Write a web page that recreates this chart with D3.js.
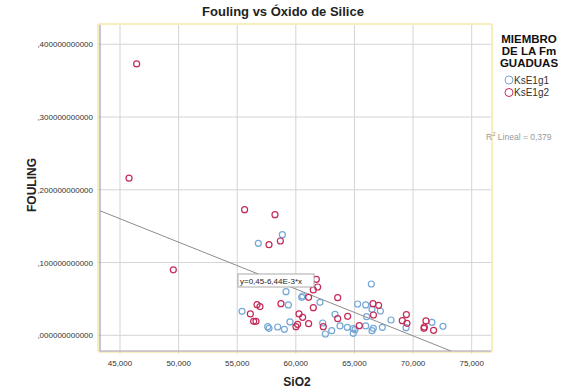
<!DOCTYPE html>
<html>
<head>
<meta charset="utf-8">
<script src="https://cdn.jsdelivr.net/npm/d3@7"></script>
<style>
  body { margin: 0; background: #fff; }
  svg { font-family: Arial, "Liberation Sans", sans-serif; }
</style>
</head>
<body>
<svg id="chart"></svg>
<script>
// SiO2 (x) and FOULING (y) per group
const g1SiO2 = [58.85, 56.80, 59.16, 60.50, 60.58, 66.44, 62.06, 59.36, 55.41, 59.50, 57.60, 57.71,
  58.45, 59.02, 62.29, 62.52, 63.06, 63.34, 63.77, 64.39, 64.90, 65.05, 64.90, 65.27, 65.96,
  66.50, 67.21, 66.04, 65.96, 66.50, 66.61, 67.38, 68.12, 69.40, 71.61, 72.55];
const g1Fouling = [0.1383, 0.1264, 0.0600, 0.0522, 0.0540, 0.0705, 0.0453, 0.0417, 0.0330, 0.0183, 0.0119, 0.0096,
  0.0114, 0.0082, 0.0169, 0.0018, 0.0064, 0.0288, 0.0128, 0.0110, 0.0091, 0.0077, 0.0027, 0.0430, 0.0417,
  0.0357, 0.0334, 0.0256, 0.0128, 0.0064, 0.0096, 0.0110, 0.0210, 0.0105, 0.0178, 0.0123];

const g2SiO2 = [46.42, 45.77, 49.55, 55.63, 58.22, 57.71, 58.68, 61.75, 61.86, 61.49, 61.09, 63.57,
  56.69, 56.94, 58.73, 61.49, 56.12, 56.40, 56.60, 60.27, 60.58, 60.15, 60.01, 61.09, 62.34,
  63.57, 64.42, 65.41, 66.58, 67.06, 66.62, 69.08, 69.43, 69.48, 70.93, 70.96, 71.10, 71.75];
const g2Fouling = [0.373, 0.216, 0.090, 0.1727, 0.1658, 0.1246, 0.1296, 0.0769, 0.0664, 0.0623, 0.0522, 0.0517,
  0.0421, 0.0394, 0.0435, 0.0380, 0.0293, 0.0192, 0.0192, 0.0293, 0.0247, 0.0151, 0.0119, 0.0160, 0.0119,
  0.0229, 0.0261, 0.0132, 0.0435, 0.0412, 0.0279, 0.0201, 0.0284, 0.0165, 0.0096, 0.0114, 0.0197, 0.0068];

const groups = ["KsE1g1", "KsE1g2"];
const legendTitle = ["MIEMBRO", "DE LA Fm", "GUADUAS"];
const xTicks = [45, 50, 55, 60, 65, 70, 75];
const yTicks = [0, 0.1, 0.2, 0.3, 0.4];
const fitIntercept = 0.45;
const fitSlope = -6.44e-3;
const fitLabel = "y=0,45-6,44E-3*x";
const r2Label = "Lineal = 0,379";

const width = 565, height = 392;
const margin = { top: 25, right: 74, bottom: 41, left: 100 };
const pw = width - margin.left - margin.right;
const ph = height - margin.top - margin.bottom;
const colors = { KsE1g1: "#74a7d6", KsE1g2: "#c42a58" };

const svg = d3.select("#chart").attr("width", width).attr("height", height);

const x = d3.scaleLinear().domain([43.294, 76.648]).range([0, pw]);
const y = d3.scaleLinear().domain([-0.0216, 0.4265]).range([ph, 0]);

const comma = v => d3.format(".3f")(v).replace(".", ",");
const commaY = v => d3.format(".12f")(v).replace("0.", ",");

const g = svg.append("g").attr("transform", "translate(" + margin.left + "," + margin.top + ")");

svg.append("defs").append("clipPath").attr("id", "clip")
  .append("rect").attr("width", pw).attr("height", ph);

// gridlines
g.append("g").selectAll("line").data(xTicks).enter().append("line")
  .attr("x1", d => x(d)).attr("x2", d => x(d))
  .attr("y1", 0).attr("y2", ph + 3)
  .attr("stroke", "#d4d4d4");
g.append("g").selectAll("line").data(yTicks).enter().append("line")
  .attr("x1", -3).attr("x2", pw)
  .attr("y1", d => y(d)).attr("y2", d => y(d))
  .attr("stroke", "#d4d4d4");

// frame
g.append("rect").attr("x", -2).attr("y", -1).attr("width", pw + 3).attr("height", ph + 2)
  .attr("rx", 2).attr("fill", "none").attr("stroke", "#f2eaa6").attr("stroke-width", 1.5);

// axes lines
g.append("line").attr("x1", 0).attr("x2", 0).attr("y1", 0).attr("y2", ph)
  .attr("stroke", "#a59cbf").attr("stroke-width", 1.2);
g.append("line").attr("x1", 0).attr("x2", pw).attr("y1", ph).attr("y2", ph)
  .attr("stroke", "#a59cbf").attr("stroke-width", 1.2);

// tick labels
g.append("g").selectAll("text").data(xTicks).enter().append("text")
  .attr("x", d => x(d)).attr("y", ph + 15)
  .attr("text-anchor", "middle").attr("font-size", "8px").attr("fill", "#333")
  .text(comma);
g.append("g").selectAll("text").data(yTicks).enter().append("text")
  .attr("x", -7).attr("y", d => y(d) + 3)
  .attr("text-anchor", "end").attr("font-size", "8px").attr("fill", "#333")
  .text(commaY);

// fit line
const xd = x.domain();
g.append("line")
  .attr("clip-path", "url(#clip)")
  .attr("x1", x(xd[0])).attr("y1", y(fitIntercept + fitSlope * xd[0]))
  .attr("x2", x(xd[1])).attr("y2", y(fitIntercept + fitSlope * xd[1]))
  .attr("stroke", "#8c8c8c").attr("stroke-width", 1);

// points
const series = [
  { name: groups[0], xs: g1SiO2, ys: g1Fouling },
  { name: groups[1], xs: g2SiO2, ys: g2Fouling }
];
series.forEach(s => {
  g.append("g").selectAll("circle").data(s.xs.map((v, i) => [v, s.ys[i]])).enter().append("circle")
    .attr("cx", d => x(d[0])).attr("cy", d => y(d[1])).attr("r", 3)
    .attr("fill", "none").attr("stroke", colors[s.name]).attr("stroke-width", 1.2);
});

// equation label
const lab = g.append("g").attr("transform", "translate(138,249)");
lab.append("rect").attr("width", 76).attr("height", 13)
  .attr("fill", "#fff").attr("stroke", "#aaa");
lab.append("text").attr("x", 2).attr("y", 9.5).attr("font-size", "8px").attr("fill", "#222").text(fitLabel);

// titles
svg.append("text").attr("x", 283).attr("y", 16)
  .attr("text-anchor", "middle").attr("font-size", "13px").attr("font-weight", "bold")
  .attr("fill", "#222").text("Fouling vs Óxido de Silice");
svg.append("text").attr("transform", "translate(36,185) rotate(-90)")
  .attr("text-anchor", "middle").attr("font-size", "12px").attr("font-weight", "bold")
  .attr("fill", "#222").text("FOULING");
svg.append("text").attr("x", 297).attr("y", 386)
  .attr("text-anchor", "middle").attr("font-size", "12px").attr("font-weight", "bold")
  .attr("fill", "#222").text("SiO2");

// legend
const leg = svg.append("g");
legendTitle.forEach((t, i) => {
  leg.append("text").attr("x", 529).attr("y", 43 + i * 12)
    .attr("text-anchor", "middle").attr("font-size", "11.5px").attr("font-weight", "bold")
    .attr("fill", "#111").text(t);
});
groups.forEach((name, i) => {
  const yy = 80 + i * 12.5;
  leg.append("circle").attr("cx", 509).attr("cy", yy).attr("r", 4)
    .attr("fill", "none").attr("stroke", colors[name]).attr("stroke-width", 1);
  leg.append("text").attr("x", 514).attr("y", yy + 3.5).attr("font-size", "10px")
    .attr("fill", "#333").text(name);
});

// R2 label
const r2 = svg.append("text").attr("x", 486).attr("y", 140).attr("font-size", "8.5px").attr("fill", "#999");
r2.append("tspan").text("R");
r2.append("tspan").attr("dy", -4).attr("font-size", "6px").text("2");
r2.append("tspan").attr("dy", 4).text(" " + r2Label);
</script>
</body>
</html>
